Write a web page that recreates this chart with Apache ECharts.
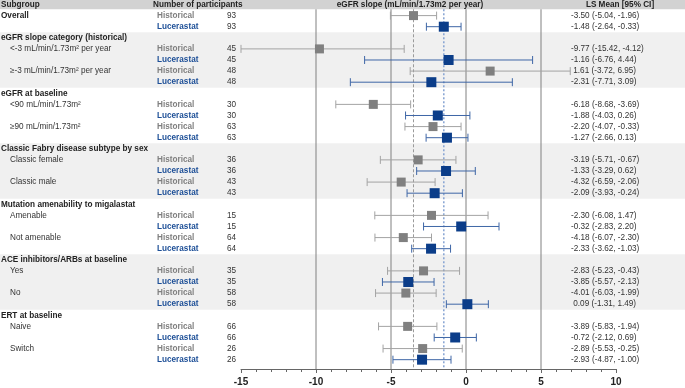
<!DOCTYPE html>
<html>
<head>
<meta charset="utf-8">
<script src="https://cdn.jsdelivr.net/npm/echarts@6/dist/echarts.min.js"></script>
<style>
html, body { margin: 0; padding: 0; background: #fff; }
#chart { width: 685px; height: 388px; }
</style>
</head>
<body>
<div id="chart"></div>
<script>
var dom = document.getElementById('chart');
var myChart = echarts.init(dom);

// ---- data ----
var groupNames = [
    'eGFR slope category (historical)',
    'eGFR at baseline',
    'Classic Fabry disease subtype by sex',
    'Mutation amenability to migalastat',
    'ACE inhibitors/ARBs at baseline',
    'ERT at baseline'
];
var subgroupNames = [
    'Overall',
    '<-3 mL/min/1.73m² per year', '≥-3 mL/min/1.73m² per year',
    '<90 mL/min/1.73m²', '≥90 mL/min/1.73m²',
    'Classic female', 'Classic male',
    'Amenable', 'Not amenable',
    'Yes', 'No',
    'Naive', 'Switch'
];
var subgroupGroup = [-1, 0, 0, 1, 1, 2, 2, 3, 3, 4, 4, 5, 5];
var shadedGroups = [0, 2, 4];

var nHistorical = [93, 45, 48, 30, 63, 36, 43, 15, 64, 35, 58, 66, 26];
var nLucerastat = [93, 45, 48, 30, 63, 36, 43, 15, 64, 35, 58, 66, 26];

var histMean = [-3.50, -9.77, 1.61, -6.18, -2.20, -3.19, -4.32, -2.30, -4.18, -2.83, -4.01, -3.89, -2.89];
var histLow  = [-5.04, -15.42, -3.72, -8.68, -4.07, -5.71, -6.59, -6.08, -6.07, -5.23, -6.03, -5.83, -5.53];
var histHigh = [-1.96, -4.12, 6.95, -3.69, -0.33, -0.67, -2.06, 1.47, -2.30, -0.43, -1.99, -1.94, -0.25];

var lucMean = [-1.48, -1.16, -2.31, -1.88, -1.27, -1.33, -2.09, -0.32, -2.33, -3.85, 0.09, -0.72, -2.93];
var lucLow  = [-2.64, -6.76, -7.71, -4.03, -2.66, -3.29, -3.93, -2.83, -3.62, -5.57, -1.31, -2.12, -4.87];
var lucHigh = [-0.33, 4.44, 3.09, 0.26, 0.13, 0.62, -0.24, 2.20, -1.03, -2.13, 1.49, 0.69, -1.00];

var xMin = -15, xMax = 10;
var refLineValues = [-10, -5, 0, 5];

// ---- styling ----
var FONT = '"Liberation Sans", Arial, sans-serif';
var FS = 8.2;
var GREY_TXT = '#7f7f7f';
var BLUE_TXT = '#1d4f97';
var GREY_MARK = '#808080';
var GREY_BAR = '#a3a3a3';
var BLUE_MARK = '#0b3d89';
var BLUE_BAR = '#3e66a6';

// ---- build rows ----
var rows = [];
var lastGroup = -1;
subgroupNames.forEach(function (name, i) {
    var g = subgroupGroup[i];
    if (g >= 0 && g !== lastGroup) {
        rows.push({ kind: 'group', label: groupNames[g], group: g });
        lastGroup = g;
    }
    rows.push({ kind: 'hist', label: name, top: g < 0, group: g, n: nHistorical[i],
        mean: histMean[i], lo: histLow[i], hi: histHigh[i] });
    rows.push({ kind: 'luc', label: '', group: g, n: nLucerastat[i],
        mean: lucMean[i], lo: lucLow[i], hi: lucHigh[i] });
});

var yMin = -1.405, yMax = 31.84;

// bands
var bands = [];
shadedGroups.forEach(function (g) {
    var first = -1, last = -1;
    rows.forEach(function (r, idx) {
        if (r.group === g) { if (first < 0) first = idx; last = idx; }
    });
    bands.push([first - 0.5, last + 0.5]);
});

function fmt(v) { return v.toFixed(2); }

// texts
var texts = [];
texts.push({ row: -1, x: 1, text: 'Subgroup', color: '#222', bold: true });
texts.push({ row: -1, x: 153, text: 'Number of participants', color: '#222', bold: true });
texts.push({ row: -1, x: 410, text: 'eGFR slope (mL/min/1.73m2 per year)', color: '#222', bold: true, align: 'center' });
texts.push({ row: -1, x: 620, text: 'LS Mean [95% CI]', color: '#222', bold: true, align: 'center' });
rows.forEach(function (r, idx) {
    if (r.kind === 'group') {
        texts.push({ row: idx, x: 1, text: r.label, color: '#222', bold: true });
        return;
    }
    if (r.label) {
        texts.push({ row: idx, x: r.top ? 1 : 10, text: r.label, color: r.top ? '#222' : '#333', bold: r.top });
    }
    var isH = r.kind === 'hist';
    texts.push({ row: idx, x: 157, text: isH ? 'Historical' : 'Lucerastat', color: isH ? GREY_TXT : BLUE_TXT, bold: true });
    texts.push({ row: idx, x: 227, text: String(r.n), color: '#333' });
    texts.push({ row: idx, x: 571, text: (r.mean >= 0 ? ' ' : '') + fmt(r.mean) + ' (' + fmt(r.lo) + ', ' + fmt(r.hi) + ')', color: '#333' });
});

var estRows = [];
rows.forEach(function (r, idx) { if (r.kind !== 'group') estRows.push(idx); });

var overallHist = histMean[0], overallLuc = lucMean[0];

option = {
    animation: false,
    grid: { left: 241, right: 69, top: 0, bottom: 19 },
    xAxis: {
        type: 'value', min: xMin, max: xMax, interval: 5,
        axisLine: { show: true, onZero: false, lineStyle: { color: '#666', width: 1 } },
        axisTick: { show: true, length: 4, lineStyle: { color: '#666' } },
        minorTick: { show: true, splitNumber: 5, length: 3, lineStyle: { color: '#666' } },
        splitLine: { show: false },
        axisLabel: { color: '#222', fontFamily: FONT, fontWeight: 'bold', fontSize: 10, margin: 8 }
    },
    yAxis: {
        type: 'value', inverse: true, min: yMin, max: yMax, show: false,
        axisLine: { onZero: false },
        splitLine: { show: false }
    },
    series: [
        {
            // background bands + header band
            type: 'custom', z: 0, silent: true,
            data: [[0, -100]].concat(bands.map(function (b) { return [b[0], b[1]]; })),
            renderItem: function (params, api) {
                var w = api.getWidth();
                var y0, y1, color;
                if (params.dataIndex === 0) {
                    y0 = 0; y1 = api.coord([0, -0.57])[1]; color = '#d2d2d2';
                } else {
                    var b = bands[params.dataIndex - 1];
                    y0 = api.coord([0, b[0]])[1]; y1 = api.coord([0, b[1]])[1]; color = '#f0f0f0';
                }
                return { type: 'rect', shape: { x: 0, y: y0, width: w, height: y1 - y0 }, style: { fill: color } };
            }
        },
        {
            // vertical reference lines
            type: 'custom', z: 1, silent: true,
            data: refLineValues.map(function (v) { return [v, 0]; })
                .concat([[overallHist, 1], [overallLuc, 2]]),
            renderItem: function (params, api) {
                var v = api.value(0), kind = api.value(1);
                var top = api.coord([v, -0.57]);
                var bot = api.coord([v, yMax]);
                var style = { stroke: '#808080', lineWidth: 1 };
                if (kind === 1) style = { stroke: '#9a9a9a', lineWidth: 1, lineDash: [3, 2] };
                if (kind === 2) style = { stroke: '#86a3d2', lineWidth: 1.5, lineDash: [2, 2] };
                return { type: 'line', shape: { x1: top[0], y1: top[1], x2: bot[0], y2: bot[1] }, style: style };
            }
        },
        {
            // error bars
            type: 'custom', z: 2, silent: true,
            data: estRows.map(function (idx) {
                var r = rows[idx];
                return [r.lo, r.hi, idx, r.kind === 'hist' ? 0 : 1];
            }),
            renderItem: function (params, api) {
                var lo = Math.max(api.value(0), xMin), hi = Math.min(api.value(1), xMax);
                var row = api.value(2);
                var color = api.value(3) === 0 ? GREY_BAR : BLUE_BAR;
                var a = api.coord([lo, row]), b = api.coord([hi, row]);
                var h = 4;
                var st = { stroke: color, lineWidth: 1 };
                return {
                    type: 'group',
                    children: [
                        { type: 'line', shape: { x1: a[0], y1: a[1], x2: b[0], y2: b[1] }, style: st },
                        { type: 'line', shape: { x1: a[0], y1: a[1] - h, x2: a[0], y2: a[1] + h }, style: st },
                        { type: 'line', shape: { x1: b[0], y1: b[1] - h, x2: b[0], y2: b[1] + h }, style: st }
                    ]
                };
            }
        },
        {
            name: 'Historical', type: 'scatter', z: 3, symbol: 'rect', symbolSize: 9, silent: true,
            itemStyle: { color: GREY_MARK, opacity: 1 },
            data: estRows.filter(function (idx) { return rows[idx].kind === 'hist'; })
                .map(function (idx) { return [rows[idx].mean, idx]; })
        },
        {
            name: 'Lucerastat', type: 'scatter', z: 3, symbol: 'rect', symbolSize: 10, silent: true,
            itemStyle: { color: BLUE_MARK, opacity: 1 },
            data: estRows.filter(function (idx) { return rows[idx].kind === 'luc'; })
                .map(function (idx) { return [rows[idx].mean, idx]; })
        },
        {
            // text columns
            type: 'custom', z: 4, silent: true, clip: false,
            data: texts.map(function (t) { return [0, t.row]; }),
            renderItem: function (params, api) {
                var t = texts[params.dataIndex];
                var y = api.coord([0, t.row])[1];
                var align = t.align || 'left';
                return {
                    type: 'text', x: t.x, y: y,
                    style: {
                        text: t.text, fill: t.color,
                        font: (t.bold ? 'bold ' : '') + FS + 'px ' + FONT,
                        align: align, textAlign: align,
                        verticalAlign: 'middle', textVerticalAlign: 'middle'
                    }
                };
            }
        }
    ]
};

if (option && typeof option === 'object') {
    myChart.setOption(option, true);
}
</script>
</body>
</html>
